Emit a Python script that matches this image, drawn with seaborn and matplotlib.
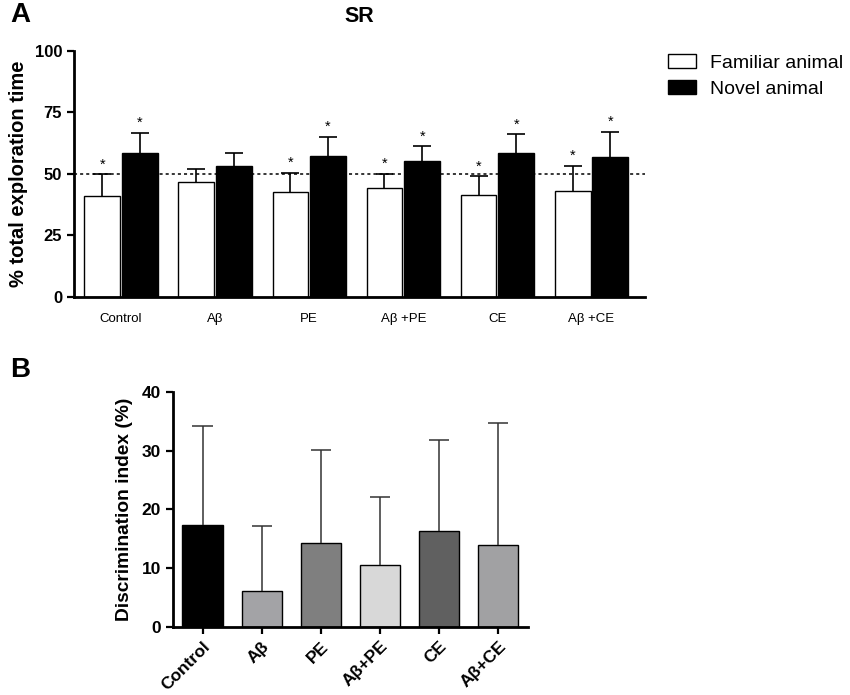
import numpy as np
import pandas as pd
import matplotlib
matplotlib.use("Agg")
import matplotlib.pyplot as plt
import seaborn as sns

# ---- data ----
groups_a = ["Control", "Aβ", "PE", "Aβ +PE", "CE", "Aβ +CE"]
familiar_mean = [40.9, 46.6, 42.4, 44.2, 41.3, 42.9]
familiar_err = [8.8, 5.4, 8.1, 5.9, 7.7, 10.4]
novel_mean = [58.4, 53.0, 57.1, 55.3, 58.3, 56.8]
novel_err = [8.2, 5.3, 8.0, 5.8, 7.7, 10.2]
familiar_star = [True, False, True, True, True, True]
novel_star = [True, False, True, True, True, True]
series_names = ["Familiar animal", "Novel animal"]

groups_b = ["Control", "Aβ", "PE", "Aβ+PE", "CE", "Aβ+CE"]
di_mean = [17.3, 6.1, 14.2, 10.5, 16.4, 13.9]
di_err = [16.9, 11.1, 16.0, 11.7, 15.4, 20.8]
di_colors = ["#000000", "#a3a3a6", "#7f7f7f", "#d8d8d8", "#606060", "#a1a1a3"]

sns.set_style("ticks")
plt.rcParams["font.family"] = ["Liberation Sans", "DejaVu Sans"]
for k in ["text.color", "axes.labelcolor", "xtick.color", "ytick.color", "axes.edgecolor"]:
    plt.rcParams[k] = "black"

fig = plt.figure(figsize=(8.5, 6.95), dpi=100)

# ---------- Panel A ----------
axA = fig.add_axes([0.087, 0.573, 0.672, 0.354])
dfA = pd.DataFrame({
    "group": groups_a * 2,
    "animal": [series_names[0]] * 6 + [series_names[1]] * 6,
    "value": familiar_mean + novel_mean,
})
sns.barplot(data=dfA, x="group", y="value", hue="animal", order=groups_a,
            hue_order=series_names,
            palette={series_names[0]: "white", series_names[1]: "black"},
            edgecolor="black", linewidth=1.0, width=0.8, gap=0.05,
            errorbar=None, ax=axA)

errs_all = [familiar_err, novel_err]
stars_all = [familiar_star, novel_star]
for ci, cont in enumerate(axA.containers):
    for bi, p in enumerate(cont.patches):
        xc = p.get_x() + p.get_width() / 2
        top = p.get_height()
        e = errs_all[ci][bi]
        hw = p.get_width() * 0.25
        axA.vlines(xc, top, top + e, color="black", lw=1.2, zorder=3)
        axA.hlines(top + e, xc - hw, xc + hw, color="black", lw=1.2, zorder=3)
        if stars_all[ci][bi]:
            axA.annotate("*", (xc, top + e), xytext=(0, 2), textcoords="offset points",
                         ha="center", va="bottom", fontsize=10.5)

axA.axhline(50, color="black", lw=1.1, ls=(0, (2, 2)), zorder=0.5)
axA.set_ylim(0, 100)
axA.set_xlim(-0.5, 5.57)
axA.set_yticks([0, 25, 50, 75, 100])
axA.set_xlabel("")
axA.set_ylabel("% total exploration time", fontsize=14.5, fontweight="bold", labelpad=5)
axA.set_title("SR", fontsize=15.5, fontweight="bold", pad=21)
for lab in axA.get_yticklabels():
    lab.set_fontweight("bold")
axA.tick_params(axis="y", labelsize=12, width=1.6, length=5, direction="out")
axA.tick_params(axis="x", labelsize=9.5, length=0, pad=12)
for s in ["left", "bottom"]:
    axA.spines[s].set_linewidth(2)
sns.despine(ax=axA)
leg = axA.legend(loc="upper left", bbox_to_anchor=(0.786, 0.922),
                 bbox_transform=fig.transFigure, frameon=False, fontsize=14,
                 borderpad=0, borderaxespad=0,
                 handlelength=1.45, handleheight=0.75, handletextpad=0.72,
                 labelspacing=0.4)

# ---------- Panel B ----------
axB = fig.add_axes([0.2035, 0.098, 0.4175, 0.338])
dfB = pd.DataFrame({"group": groups_b, "value": di_mean})
sns.barplot(data=dfB, x="group", y="value", hue="group", order=groups_b,
            palette=dict(zip(groups_b, di_colors)), edgecolor="black",
            linewidth=1.0, width=0.68, errorbar=None, legend=False, ax=axB)
for i, g in enumerate(groups_b):
    p = [pp for cont in axB.containers for pp in cont.patches
         if abs(pp.get_x() + pp.get_width() / 2 - i) < 0.3][0]
    xc = p.get_x() + p.get_width() / 2
    top = p.get_height()
    hw = p.get_width() * 0.25
    axB.vlines(xc, top, top + di_err[i], color="#333333", lw=1.1, zorder=3)
    axB.hlines(top + di_err[i], xc - hw, xc + hw, color="#333333", lw=1.1, zorder=3)

axB.set_ylim(0, 40)
axB.set_xlim(-0.5, 5.5)
axB.set_yticks([0, 10, 20, 30, 40])
axB.set_xlabel("")
axB.set_ylabel("Discrimination index (%)", fontsize=13.8, fontweight="bold", labelpad=6)
axB.tick_params(axis="both", labelsize=12.5, width=1.6, length=5, direction="out")
for lab in axB.get_yticklabels():
    lab.set_fontweight("bold")
for lab in axB.get_xticklabels():
    lab.set_fontweight("bold")
    lab.set_rotation(45)
    lab.set_ha("right")
    lab.set_rotation_mode("anchor")
for s in ["left", "bottom"]:
    axB.spines[s].set_linewidth(2)
sns.despine(ax=axB)

fig.text(0.012, 0.978, "A", fontsize=20, fontweight="bold", va="center", ha="left")
fig.text(0.012, 0.468, "B", fontsize=20, fontweight="bold", va="center", ha="left")

fig.savefig("out.png", dpi=100)
